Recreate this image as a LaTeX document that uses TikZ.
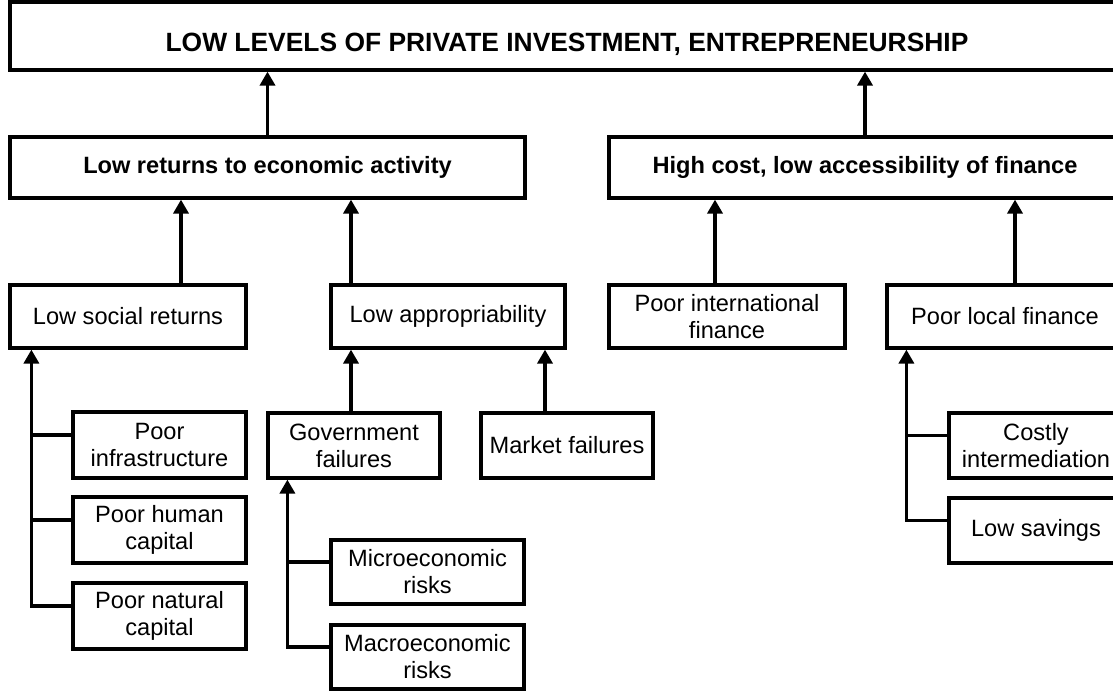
\documentclass[tikz,border=0pt]{standalone}
\usepackage{fontspec}
\setmainfont{Liberation Sans}
\usetikzlibrary{arrows.meta}

\begin{document}
\begin{tikzpicture}[x=0.5pt,y=-0.5pt,
  box/.style={draw,line width=1.6pt,align=center,inner sep=0pt,
    font=\fontsize{11.8}{13.5}\selectfont},
  head/.style={box,font=\fontsize{11.8}{13.5}\selectfont\bfseries},
  wire/.style={line width=1.9pt},
  link/.style={wire,-{Triangle[width=7.5pt,length=7pt]}}]
\useasboundingbox (0,0) rectangle (1113,691);

\node[head,font=\fontsize{13.2}{15}\selectfont\bfseries,
  minimum width=557pt,minimum height=34pt] (top) at (567,36)
  {\raisebox{-3pt}[9.4pt][0pt]{LOW LEVELS OF PRIVATE INVESTMENT, ENTREPRENEURSHIP}};

\node[head,minimum width=257.5pt,minimum height=30.5pt] (lowret) at (267.5,167.5)
  {Low returns to economic activity};
\node[head,minimum width=256pt,minimum height=30.5pt] (finance) at (865,167.5)
  {High cost, low accessibility of finance};

\node[box,minimum width=118pt,minimum height=31.5pt] (social) at (128,316.5) {Low social returns};
\node[box,minimum width=117pt,minimum height=31.5pt] (approp) at (448,316.5) {Low appropriability};
\node[box,minimum width=118pt,minimum height=31.5pt] (intl) at (727,316.5) {Poor international\\finance};
\node[box,minimum width=118pt,minimum height=31.5pt] (local) at (1005,316.5) {Poor local finance};

\node[box,minimum width=86.5pt,minimum height=33pt] (infra) at (159.5,445) {Poor\\infrastructure};
\node[box,minimum width=86.5pt,minimum height=33pt] (human) at (159.5,530) {Poor human\\capital};
\node[box,minimum width=86.5pt,minimum height=33pt] (natural) at (159.5,616) {Poor natural\\capital};

\node[box,minimum width=86pt,minimum height=32.5pt] (gov) at (354,445.5) {Government\\failures};
\node[box,minimum width=86pt,minimum height=32.5pt] (market) at (567,445.5) {Market failures};
\node[box,minimum width=96.5pt,minimum height=32pt] (micro) at (427.5,572) {Microeconomic\\risks};
\node[box,minimum width=96.5pt,minimum height=32pt] (macro) at (427.5,657) {Macroeconomic\\risks};

\node[box,minimum width=87pt,minimum height=32.5pt] (costly) at (1036,445.5) {Costly\\intermediation};
\node[box,minimum width=87pt,minimum height=32.5pt] (savings) at (1036,530.5) {Low savings};

\draw[link] (lowret.north) -- (lowret.north |- top.south);
\draw[link] (finance.north) -- (finance.north |- top.south);

\draw[link] ([xshift=26.5pt]social.north) -- ([xshift=26.5pt]social.north |- lowret.south);
\draw[link] ([xshift=-48.5pt]approp.north) -- ([xshift=-48.5pt]approp.north |- lowret.south);
\draw[link] ([xshift=-6pt]intl.north) -- ([xshift=-6pt]intl.north |- finance.south);
\draw[link] ([xshift=5pt]local.north) -- ([xshift=5pt]local.north |- finance.south);

\draw[link] ([xshift=-1.5pt]gov.north) -- ([xshift=-1.5pt]gov.north |- approp.south);
\draw[link] ([xshift=-11pt]market.north) -- ([xshift=-11pt]market.north |- approp.south);

\coordinate (s1) at ([xshift=11.5pt]social.south west);
\draw[link] ([yshift=5pt]natural.west) -| (s1);
\draw[wire] ([yshift=5pt]infra.west) -- ([yshift=5pt]infra.west -| s1);
\draw[wire] ([yshift=5pt]human.west) -- ([yshift=5pt]human.west -| s1);

\coordinate (g1) at ([xshift=10.5pt]gov.south west);
\draw[link] ([yshift=5pt]macro.west) -| (g1);
\draw[wire] ([yshift=5pt]micro.west) -- ([yshift=5pt]micro.west -| g1);

\coordinate (l1) at ([xshift=10.5pt]local.south west);
\draw[link] ([yshift=5pt]savings.west) -| (l1);
\draw[wire] ([yshift=5pt]costly.west) -- ([yshift=5pt]costly.west -| l1);

\end{tikzpicture}
\end{document}
